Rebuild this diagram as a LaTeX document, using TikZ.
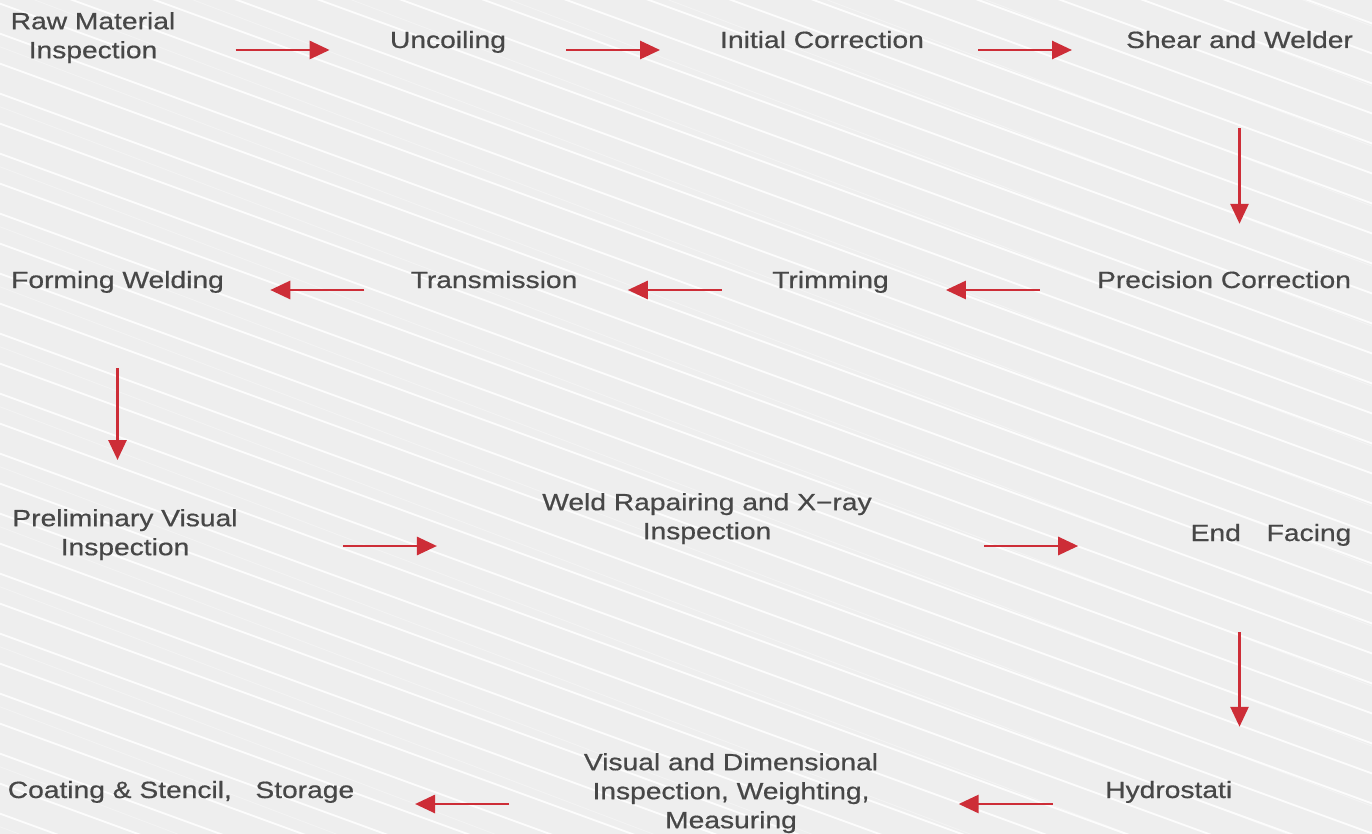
\documentclass[tikz,border=0pt]{standalone}
\usepackage{fontspec}
\setmainfont{Liberation Sans}[FakeStretch=1.2,FakeBold=0.6]
\usetikzlibrary{arrows.meta,calc}
\definecolor{paper}{gray}{0.935}
\definecolor{stagetext}{gray}{0.28}
\definecolor{flowred}{RGB}{205,45,55}
\tikzset{
  streak/.style={draw=white,line width=1.8pt,opacity=0.85},
  faint/.style={draw=white,line width=0.8pt,opacity=0.35},
  stage/.style={inner sep=0pt,text=stagetext,font=\fontsize{23.5}{29}\selectfont,anchor=base},
  stagetwo/.style={stage,align=center,anchor=north},
  flow/.style={draw=flowred,line width=2.8pt,-{Triangle[length=20pt,width=18pt]}},
}

\begin{document}
\begin{tikzpicture}[x=1pt,y=1pt]
  % paper with white streaks
  \useasboundingbox (0,0) rectangle (1372,-834);
  \fill[paper] (0,0) rectangle (1372,-834);
  \begin{scope}
    \clip (0,0) rectangle (1372,-834);
    \foreach \k in {0,...,46} {
      \draw[streak] (-10,{510-\k*30}) -- ++(1400,-510);
    }
    \foreach \k in {0,...,23} {
      \draw[faint] (-10,{497-\k*60}) -- ++(1400,-530);
    }
  \end{scope}
  % row 1
  \node[stagetwo] (raw) at (93,-12) {Raw Material\\Inspection};
  \node[stage] (unc) at (448,-48) {Uncoiling};
  \node[stage] (init) at (822,-48) {Initial Correction};
  \node[stage] (shear) at (1239.5,-48) {Shear and Welder};
  % row 2
  \node[stage] (forming) at (117.5,-288) {Forming Welding};
  \node[stage] (trans) at (494,-288) {Transmission};
  \node[stage] (trim) at (830.5,-288) {Trimming};
  \node[stage] (prec) at (1224,-288) {Precision Correction};
  % row 3
  \node[stagetwo] (prelim) at (125,-509) {Preliminary Visual\\Inspection};
  \node[stagetwo] (weld) at (707,-493) {Weld Rapairing and X{\char"2212}ray\\Inspection};
  \node[stage] (endf) at (1271,-541) {End\hspace{1.1em}Facing};
  % row 4
  \node[stage] (coat) at (181,-798) {Coating \& Stencil,\hspace{1em}Storage};
  \node[stagetwo] (visual) at (731,-753) {Visual and Dimensional\\Inspection, Weighting,\\Measuring};
  \node[stage,anchor=base west] (hydro) at (1105,-798) {Hydrostati};
  % arrows
  \draw[flow] let \p1=($(raw.east)!.5!(unc.west)$) in (\x1-47pt,-50pt) -- (\x1+47pt,-50pt);
  \draw[flow] let \p1=($(unc.east)!.5!(init.west)$) in (\x1-47pt,-50pt) -- (\x1+47pt,-50pt);
  \draw[flow] let \p1=($(init.east)!.5!(shear.west)$) in (\x1-47pt,-50pt) -- (\x1+47pt,-50pt);
  \draw[flow,shorten <=80pt,shorten >=47pt] (shear.south) -- (shear.south |- prec.north);
  \draw[flow] let \p1=($(trim.east)!.5!(prec.west)$) in (\x1+47pt,-290pt) -- (\x1-47pt,-290pt);
  \draw[flow] let \p1=($(trans.east)!.5!(trim.west)$) in (\x1+47pt,-290pt) -- (\x1-47pt,-290pt);
  \draw[flow] let \p1=($(forming.east)!.5!(trans.west)$) in (\x1+47pt,-290pt) -- (\x1-47pt,-290pt);
  \draw[flow,shorten <=75pt,shorten >=49pt] (forming.south) -- (forming.south |- prelim.north);
  \draw[flow] let \p1=($(prelim.east)!.5!(weld.west)$) in (\x1-47pt,-546pt) -- (\x1+47pt,-546pt);
  \draw[flow] let \p1=($(weld.east)!.5!(endf.west)$) in (\x1-47pt,-546pt) -- (\x1+47pt,-546pt);
  \draw[flow,shorten <=86pt,shorten >=54pt] (shear.south |- endf.south) -- (shear.south |- hydro.north);
  \draw[flow] let \p1=($(visual.east)!.5!(hydro.west)$) in (\x1+61pt,-804pt) -- (\x1-33pt,-804pt);
  \draw[flow] let \p1=($(coat.east)!.5!(visual.west)$) in (\x1+40pt,-804pt) -- (\x1-54pt,-804pt);
\end{tikzpicture}
\end{document}
